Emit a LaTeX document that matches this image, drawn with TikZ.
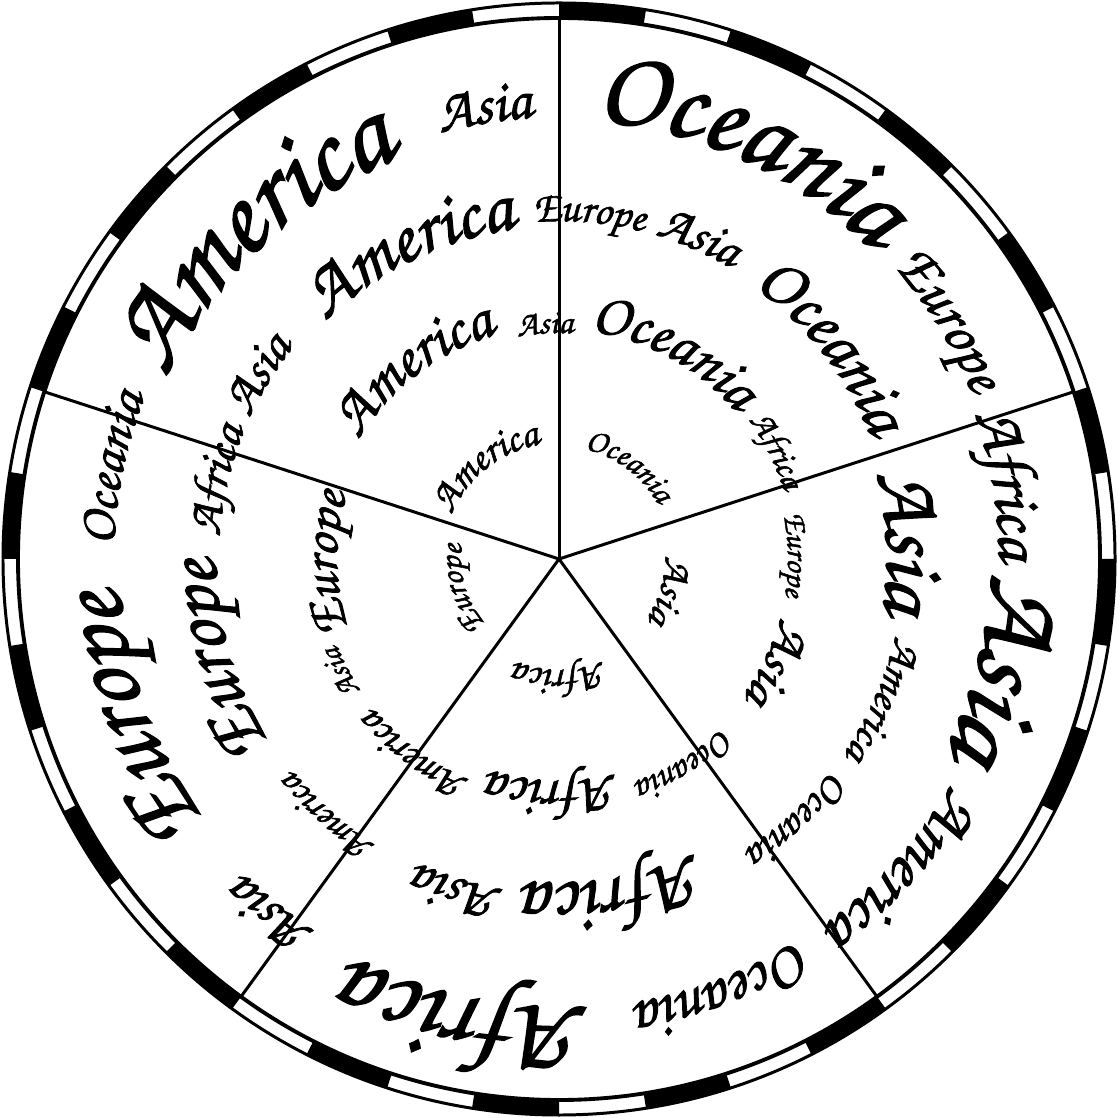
\documentclass[tikz,border=0pt]{standalone}
\usepackage{fontspec}
\usetikzlibrary{decorations.text}

\IfFontExistsTF{texgyrechorus-mediumitalic.otf}
  {\newfontfamily\contfamily{texgyrechorus-mediumitalic.otf}[FakeBold=1.5]}
  {\newfontfamily\contfamily{lmroman10-italic.otf}}
\newcommand\contfont{\contfamily}
\newlength\wordwd
% width of each word at 10pt, taken before the picture
\newcommand\measure[1]{%
  \expandafter\newlength\csname wd#1\endcsname
  \settowidth{\csname wd#1\endcsname}{\contfont\fontsize{10}{12}\selectfont #1}}
% [scale] word, baseline radius (px), start angle, end angle
\newcommand\continent[5][1]{%
  \wordwd=\csname wd#2\endcsname\relax
  \pgfmathsetmacro\wsize{#1*0.93*10*(#3*0.28453)*((#4-(#5))/57.2958)/\wordwd}%
  \path[decorate, decoration={text along path, text align=center,
      text={|\contfont\fontsize{\wsize}{\wsize}\selectfont|#2}}]
    ({#4+4}:{#3/100}) arc[start angle={#4+4}, end angle={#5-4}, radius={#3/100}];%
}

\begin{document}
\measure{America}\measure{Oceania}\measure{Asia}\measure{Africa}\measure{Europe}%
\begin{tikzpicture}[
    rim/.style={line width=0.85pt},
    ring/.style={line width=1.1pt},
    spoke/.style={line width=0.85pt},
  ]
  \useasboundingbox (-5.59,-5.59) rectangle (5.59,5.59);
  \coordinate (c) at (0,0);
%%%%%%%%%%%%%%%%%%%%%%%%%%%%%%%%%%%%%%%%%%
  % black and white border
  \foreach \k in {0,...,19}
    \fill ({90-18*\k}:5.41) arc[start angle=90-18*\k, end angle=81-18*\k, radius=5.41]
      -- ({81-18*\k}:5.56) arc[start angle=81-18*\k, end angle=90-18*\k, radius=5.56] -- cycle;
  \draw[rim] (c) circle (5.56);
  \draw[ring] (c) circle (5.41);
  % five sectors
  \foreach \a in {90,18,-54,-126,162}
    \draw[spoke] (c) -- (\a:5.41);
%%%%%%%%%%%%%%%%%%%%%%%%%%%%%%%%%%%%%%%%%%
  % first ring
  \continent{America}{116}{160}{97}
  \continent{Oceania}{113}{79}{27}
  \continent{Asia}{106}{3}{-35}
  \continent{Africa}{111}{-65}{-114}
  \continent{Europe}{98}{224}{170}
  % second ring
  \continent{America}{233}{151}{104}
  \continent{Asia}{226}{101}{86}
  \continent{Oceania}{230}{84}{38}
  \continent{Africa}{235}{37}{16}
  \continent{Europe}{229}{12}{-10}
  \continent{Asia}{229}{-14}{-37}
  \continent{Oceania}{235}{-45}{-72}
  \continent{Africa}{222}{-74}{-109}
  \continent{America}{238}{249}{218}
  \continent{Asia}{238}{214}{201}
  \continent{Europe}{222}{200}{162}
  % third ring
  \continent{America}{340}{238}{218}
  \continent{Europe}{343}{214}{179}
  \continent{Africa}{340}{177}{157}
  \continent{Asia}{340}{156}{141}
  \continent{America}{333}{136}{96}
  \continent{Europe}{338}{95}{75}
  \continent{Asia}{338}{74}{59}
  \continent{Oceania}{335}{56}{20}
  \continent{Asia}{328}{16}{-10}
  \continent{America}{345}{-12}{-35}
  \continent{Oceania}{345}{-37}{-58}
  \continent{Africa}{324}{-64}{-97}
  \continent{Asia}{335}{-99}{-115}
  % outer ring
  \continent{Europe}{440}{218}{183}
  \continent{Oceania}{445}{179}{158}
  \continent{America}{432}{157}{110}
  \continent{Asia}{442}{106}{93}
  \continent{Oceania}{440}{87}{43}
  \continent{Europe}{445}{42}{21}
  \continent{Africa}{440}{20}{-1}
  \continent{Asia}{432}{-1}{-27}
  \continent{America}{452}{-29}{-55}
  \continent{Oceania}{450}{-57}{-81}
  \continent{Africa}{448}{-85}{-118}
  \continent[0.68]{Asia}{445}{240}{222}
\end{tikzpicture}
\end{document}
